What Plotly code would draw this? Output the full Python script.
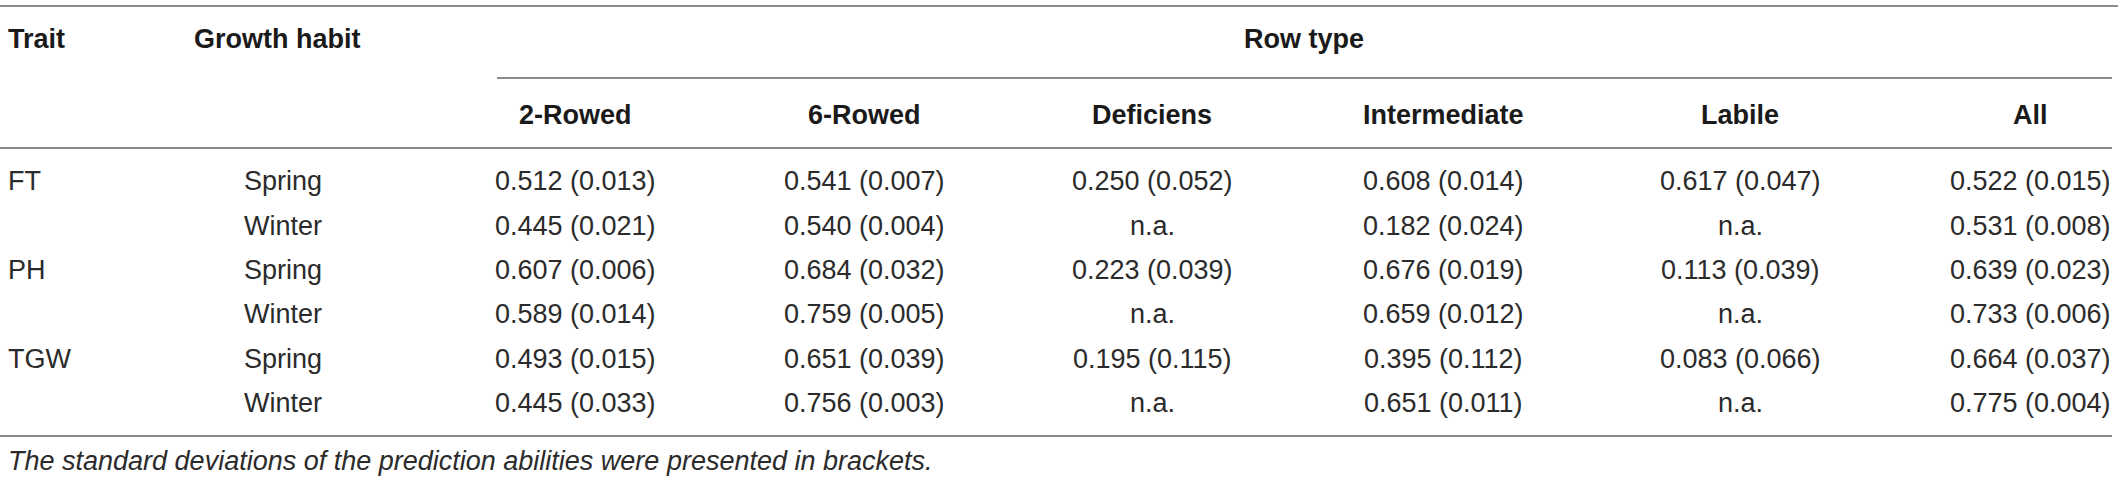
import plotly.graph_objects as go

# ---- data ----
traits = ["FT", "", "PH", "", "TGW", ""]
habits = ["Spring", "Winter", "Spring", "Winter", "Spring", "Winter"]
row_types = ["2-Rowed", "6-Rowed", "Deficiens", "Intermediate", "Labile", "All"]
col_2rowed = ["0.512 (0.013)", "0.445 (0.021)", "0.607 (0.006)", "0.589 (0.014)", "0.493 (0.015)", "0.445 (0.033)"]
col_6rowed = ["0.541 (0.007)", "0.540 (0.004)", "0.684 (0.032)", "0.759 (0.005)", "0.651 (0.039)", "0.756 (0.003)"]
col_deficiens = ["0.250 (0.052)", "n.a.", "0.223 (0.039)", "n.a.", "0.195 (0.115)", "n.a."]
col_intermediate = ["0.608 (0.014)", "0.182 (0.024)", "0.676 (0.019)", "0.659 (0.012)", "0.395 (0.112)", "0.651 (0.011)"]
col_labile = ["0.617 (0.047)", "n.a.", "0.113 (0.039)", "n.a.", "0.083 (0.066)", "n.a."]
col_all = ["0.522 (0.015)", "0.531 (0.008)", "0.639 (0.023)", "0.733 (0.006)", "0.664 (0.037)", "0.775 (0.004)"]
footnote = "The standard deviations of the prediction abilities were presented in brackets."

columns = [col_2rowed, col_6rowed, col_deficiens, col_intermediate, col_labile, col_all]

# ---- layout (pixel geometry) ----
W, H = 2118, 481
FONT = "Liberation Sans, Arial, sans-serif"
FS = 27
TXT = "#2b2b2b"
HDR = "#1a1a1a"
LINE = "#8a8a8a"

col_centers = [575, 864, 1152, 1443, 1740, 2030]
row_y = [181, 226, 270, 314, 359, 403]
trait_x = 6
habit_x = 242

fig = go.Figure()
fig.add_trace(go.Scatter(x=[0, W], y=[0, H], mode="markers",
                         marker=dict(opacity=0), hoverinfo="skip", showlegend=False))

ann = []
def add(text, x, y, anchor="left", bold=False, italic=False, color=TXT):
    ann.append(dict(text=text, x=x, y=y, xref="x", yref="y", xanchor=anchor,
                    yanchor="middle", showarrow=False,
                    font=dict(family=FONT, size=FS, color=color,
                              weight="bold" if bold else "normal",
                              style="italic" if italic else "normal")))

# headers
add("Trait", trait_x, 39, bold=True, color=HDR)
add("Growth habit", 192, 39, bold=True, color=HDR)
add("Row type", 1304, 39, anchor="center", bold=True, color=HDR)
for name, cx in zip(row_types, col_centers):
    add(name, cx, 115, anchor="center", bold=True, color=HDR)

# body
for i, y in enumerate(row_y):
    if traits[i]:
        add(traits[i], trait_x, y)
    add(habits[i], habit_x, y)
    for col, cx in zip(columns, col_centers):
        add(col[i], cx, y, anchor="center")

add(footnote, trait_x, 461, italic=True)

shapes = []
def hline(x0, x1, y, w=2):
    shapes.append(dict(type="line", xref="x", yref="y", x0=x0, x1=x1, y0=y, y1=y,
                       line=dict(color=LINE, width=w)))

hline(0, W, 6)
hline(497, 2112, 78)
hline(0, 2112, 148)
hline(0, 2112, 436)

fig.update_layout(
    width=W, height=H, margin=dict(l=0, r=0, t=0, b=0),
    paper_bgcolor="white", plot_bgcolor="white",
    xaxis=dict(range=[0, W], visible=False, fixedrange=True),
    yaxis=dict(range=[H, 0], visible=False, fixedrange=True),
    annotations=ann, shapes=shapes, showlegend=False,
)
fig.write_html(
    "out.html",
    config={"displayModeBar": False},
    post_script="document.body.style.margin='0';document.body.style.overflow='hidden';",
)
